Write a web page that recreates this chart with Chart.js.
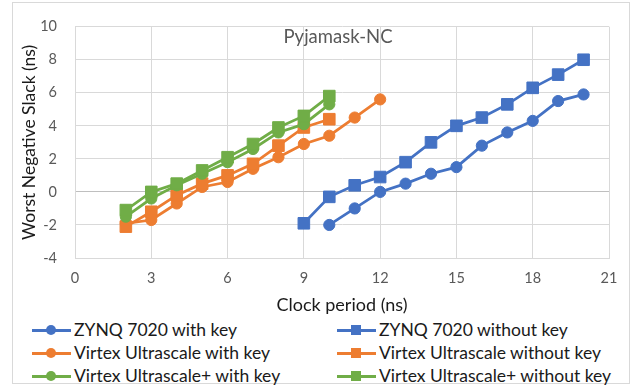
<!DOCTYPE html>
<html>
<head>
<meta charset="utf-8">
<script src="https://cdn.jsdelivr.net/npm/chart.js@4"></script>
<style>
  html, body { margin: 0; padding: 0; background: #fff; }
  #wrap { position: relative; width: 644px; height: 389px; font-family: Lato, "Open Sans", sans-serif; }
  #frame { position: absolute; left: 12px; top: 2px; width: 616px; height: 380px; border: 1px solid #d9d9d9; }
  #box { position: absolute; left: 0; top: 0; width: 644px; height: 316px; }
  #legend { position: absolute; left: 0; top: 319px; width: 644px; }
  .item { position: absolute; height: 22px; font-size: 17.5px; color: #1a1a1a; white-space: nowrap; line-height: 22px; }
  .item .ln { position: absolute; left: 0; top: 10px; width: 39px; height: 3px; }
  .item .mk { position: absolute; left: 14px; top: 6px; width: 10px; height: 10px; }
  .item .mk.circle { border-radius: 50%; }
  .item .tx { position: absolute; left: 42px; top: 0; }
</style>
</head>
<body>
<div id="wrap">
  <div id="frame"></div>
  <div id="box"><canvas id="chart"></canvas></div>
  <div id="legend"></div>
</div>
<script>
// series data
const labels = [
  'ZYNQ 7020 with key',
  'ZYNQ 7020 without key',
  'Virtex Ultrascale with key',
  'Virtex Ultrascale without key',
  'Virtex Ultrascale+ with key',
  'Virtex Ultrascale+ without key'
];
const zynqKeyX = [10, 11, 12, 13, 14, 15, 16, 17, 18, 19, 20];
const zynqKeyY = [-2.0, -1.0, 0.0, 0.5, 1.1, 1.5, 2.8, 3.6, 4.3, 5.5, 5.9];
const zynqNoKeyX = [9, 10, 11, 12, 13, 14, 15, 16, 17, 18, 19, 20];
const zynqNoKeyY = [-1.9, -0.3, 0.4, 0.9, 1.8, 3.0, 4.0, 4.5, 5.3, 6.3, 7.1, 8.0];
const usKeyX = [2, 3, 4, 5, 6, 7, 8, 9, 10, 11, 12];
const usKeyY = [-1.9, -1.7, -0.7, 0.3, 0.6, 1.4, 2.1, 2.9, 3.4, 4.5, 5.6];
const usNoKeyX = [2, 3, 4, 5, 6, 7, 8, 9, 10];
const usNoKeyY = [-2.1, -1.2, -0.2, 0.5, 1.0, 1.7, 2.8, 3.9, 4.4];
const uspKeyX = [2, 3, 4, 5, 6, 7, 8, 9, 10];
const uspKeyY = [-1.5, -0.4, 0.4, 1.1, 1.8, 2.6, 3.6, 4.1, 5.3];
const uspNoKeyX = [2, 3, 4, 5, 6, 7, 8, 9, 10];
const uspNoKeyY = [-1.1, 0.0, 0.5, 1.3, 2.1, 2.9, 3.9, 4.6, 5.8];

const xTicks = [0, 3, 6, 9, 12, 15, 18, 21];
const yTicks = [-4, -2, 0, 2, 4, 6, 8, 10];

const blue = '#4472C4', orange = '#ED7D31', green = '#70AD47';
const colors = [blue, blue, orange, orange, green, green];
const styles = ['circle', 'rect', 'circle', 'rect', 'circle', 'rect'];
const xs = [zynqKeyX, zynqNoKeyX, usKeyX, usNoKeyX, uspKeyX, uspNoKeyX];
const ys = [zynqKeyY, zynqNoKeyY, usKeyY, usNoKeyY, uspKeyY, uspNoKeyY];

const datasets = labels.map((label, i) => ({
  label,
  data: xs[i].map((x, j) => ({ x, y: ys[i][j] })),
  borderColor: colors[i],
  backgroundColor: colors[i],
  borderWidth: 2.75,
  pointStyle: styles[i],
  pointRadius: styles[i] === 'rect' ? 8.2 : 5.6,
  pointBorderWidth: 1,
  showLine: true,
  order: labels.length - i // later series on top, like the original
}));

// title sits inside the plot area
const plotTitle = {
  id: 'plotTitle',
  afterDraw(chart) {
    const { ctx, chartArea } = chart;
    ctx.save();
    ctx.font = '18.5px Lato';
    ctx.fillStyle = '#595959';
    ctx.textAlign = 'center';
    ctx.textBaseline = 'middle';
    ctx.fillText('Pyjamask-NC', (chartArea.left + chartArea.right) / 2 - 4, chartArea.top + 10);
    ctx.restore();
  }
};

new Chart(document.getElementById('chart'), {
  type: 'scatter',
  data: { datasets },
  options: {
    responsive: true,
    maintainAspectRatio: false,
    animation: false,
    layout: { padding: { left: 0, right: 35, top: 16, bottom: 0 } },
    plugins: { legend: { display: false }, tooltip: { enabled: false } },
    scales: {
      x: {
        type: 'linear',
        min: 0, max: 21,
        afterBuildTicks: s => { s.ticks = xTicks.map(v => ({ value: v })); },
        afterFit: s => { s.height = 58; },
        grid: { color: '#d9d9d9', drawTicks: false },
        border: { color: '#d9d9d9' },
        ticks: { color: '#595959', font: { family: 'Lato', size: 14.5 }, padding: 12, maxRotation: 0 },
        title: { display: true, text: 'Clock period (ns)', color: '#1a1a1a', font: { family: 'Lato', size: 18 }, padding: { top: 0, bottom: 0 } }
      },
      y: {
        min: -4, max: 10,
        afterBuildTicks: s => { s.ticks = yTicks.map(v => ({ value: v })); },
        afterFit: s => { s.width = 75; },
        grid: { color: c => c.tick && c.tick.value === 0 ? '#bfbfbf' : '#d9d9d9', drawTicks: false },
        border: { color: '#d9d9d9' },
        ticks: { color: '#595959', font: { family: 'Lato', size: 14.5 }, padding: 18 },
        title: { display: true, text: 'Worst Negative Slack (ns)', color: '#1a1a1a', font: { family: 'Lato', size: 17.5 }, padding: { top: 19, bottom: 0 } }
      }
    }
  },
  plugins: [plotTitle]
});

// legend in two columns
const legend = document.getElementById('legend');
labels.forEach((label, i) => {
  const col = i % 2, row = Math.floor(i / 2);
  const el = document.createElement('div');
  el.className = 'item';
  el.style.left = (col ? 337 : 32) + 'px';
  el.style.top = (row * 23) + 'px';
  el.innerHTML = `<div class="ln" style="background:${colors[i]}"></div>` +
    `<div class="mk ${styles[i] === 'circle' ? 'circle' : ''}" style="background:${colors[i]}"></div>` +
    `<div class="tx">${label}</div>`;
  legend.appendChild(el);
});
</script>
</body>
</html>
